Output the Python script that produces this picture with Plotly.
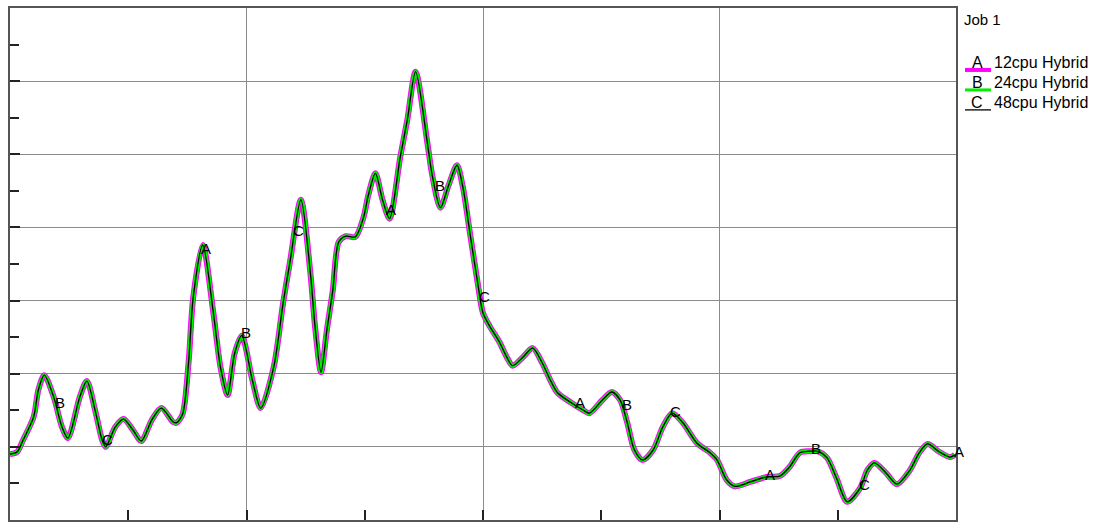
import numpy as np
import plotly.graph_objects as go

# Elapsed time (x) and load (y) for Job 1 — the three runs coincide
time = [0.00, 0.06, 0.11, 0.20, 0.24, 0.29, 0.37, 0.44, 0.49, 0.59, 0.65, 0.72, 0.78, 0.81,
        0.89, 0.96, 1.04, 1.11, 1.20, 1.28, 1.38, 1.41, 1.46, 1.51, 1.55, 1.63, 1.72,
        1.78, 1.84, 1.90, 1.96, 2.05, 2.12, 2.23, 2.31, 2.37, 2.46, 2.54, 2.58, 2.63, 2.68,
        2.73, 2.78, 2.84, 2.92, 2.99, 3.03, 3.09, 3.15, 3.21, 3.30, 3.36, 3.43, 3.53, 3.57,
        3.64, 3.71, 3.78, 3.83, 3.89, 3.96, 4.00, 4.06, 4.14, 4.20, 4.25, 4.34, 4.42, 4.50,
        4.57, 4.63, 4.74, 4.85, 4.90, 5.01, 5.09, 5.16, 5.22, 5.28, 5.35, 5.44, 5.52, 5.60,
        5.69, 5.81, 5.92, 5.98, 6.06, 6.13, 6.26, 6.40, 6.51, 6.59, 6.68, 6.76, 6.83, 6.91,
        6.99, 7.08, 7.19, 7.25, 7.31, 7.41, 7.50, 7.61, 7.69, 7.76, 7.86, 7.95, 7.99]

load = [0.90, 0.93, 1.09, 1.41, 1.78, 1.98, 1.68, 1.27, 1.12, 1.68, 1.90, 1.50, 1.09, 1.00,
        1.27, 1.38, 1.23, 1.08, 1.37, 1.53, 1.34, 1.33, 1.45, 2.15, 3.05, 3.76, 2.83,
        2.09, 1.71, 2.28, 2.52, 1.91, 1.53, 2.09, 2.97, 3.55, 4.38, 3.38, 2.64, 2.02, 2.60,
        3.14, 3.80, 3.88, 3.87, 4.14, 4.44, 4.74, 4.38, 4.12, 4.96, 5.47, 6.13, 5.15, 4.72,
        4.27, 4.58, 4.85, 4.55, 3.92, 3.19, 2.83, 2.64, 2.43, 2.23, 2.11, 2.23, 2.35, 2.15,
        1.91, 1.74, 1.61, 1.50, 1.46, 1.64, 1.75, 1.64, 1.33, 0.96, 0.82, 0.96, 1.27, 1.46,
        1.33, 1.05, 0.92, 0.82, 0.55, 0.46, 0.52, 0.59, 0.60, 0.72, 0.92, 0.94, 0.94, 0.85,
        0.57, 0.25, 0.44, 0.68, 0.78, 0.64, 0.49, 0.68, 0.92, 1.04, 0.93, 0.86, 0.89]

series_names = ["12cpu Hybrid", "24cpu Hybrid", "48cpu Hybrid"]
series_tags = ["A", "B", "C"]
series_colors = ["#ff00ff", "#00ee00", "#000000"]
series_widths = [6, 4, 1.3]

# Where each run's tag letter is attached along its curve
tag_positions = {
    "A": [1.62, 3.19, 4.79, 6.39, 7.99],
    "B": [0.39, 1.96, 3.60, 5.18, 6.78],
    "C": [0.79, 2.41, 3.98, 5.59, 7.19],
}

FONT = "Liberation Sans"

fig = go.Figure()
for name, color, width in zip(series_names, series_colors, series_widths):
    fig.add_trace(go.Scatter(
        x=time, y=load, name=name, mode="lines",
        line=dict(color=color, width=width, shape="spline", smoothing=0.8),
        showlegend=False, hoverinfo="skip",
    ))

annotations = []
for tag in series_tags:
    for tx in tag_positions[tag]:
        ty = float(np.interp(tx, time, load))
        annotations.append(dict(
            x=tx, y=ty, xref="x", yref="y", text=tag, showarrow=False,
            xanchor="center", yanchor="middle", xshift=4, yshift=3,
            font=dict(family=FONT, size=15, color="black"),
        ))

# Title and key to the right of the plot
annotations.append(dict(
    x=1.006, y=0.977, xref="paper", yref="paper", text="Job 1", showarrow=False,
    xanchor="left", yanchor="middle", font=dict(family=FONT, size=15, color="black"),
))
shapes = []
row_y = [0.893, 0.854, 0.815]
bar_y = [0.879, 0.840, 0.801]
bar_w = [4, 3, 1.3]
for tag, name, color, ry, by, bw in zip(series_tags, series_names, series_colors, row_y, bar_y, bar_w):
    annotations.append(dict(
        x=1.0225, y=ry, xref="paper", yref="paper", text=tag, showarrow=False,
        xanchor="center", yanchor="middle", font=dict(family=FONT, size=16, color="black"),
    ))
    annotations.append(dict(
        x=1.038, y=ry, xref="paper", yref="paper", text=name, showarrow=False,
        xanchor="left", yanchor="middle", font=dict(family=FONT, size=16, color="black"),
    ))
    shapes.append(dict(
        type="line", xref="paper", yref="paper", x0=1.0095, x1=1.037, y0=by, y1=by,
        line=dict(color=color, width=bw),
    ))

axis_common = dict(
    showline=True, linecolor="#555555", linewidth=2, mirror=True,
    showgrid=True, gridcolor="#8c8c8c", gridwidth=1.3,
    zeroline=False, showticklabels=False,
    ticks="inside", ticklen=10, tickcolor="#222222", tickwidth=1.5,
    fixedrange=True,
)

fig.update_layout(
    width=1108, height=523,
    margin=dict(l=10, r=152, t=8, b=3),
    paper_bgcolor="white", plot_bgcolor="white",
    xaxis=dict(range=[0, 8], dtick=2, tick0=0,
               minor=dict(dtick=1, ticks="inside", ticklen=10, tickcolor="#222222",
                          tickwidth=1.5, showgrid=False),
               **axis_common),
    yaxis=dict(range=[0, 7], dtick=1, tick0=0,
               minor=dict(dtick=0.5, ticks="inside", ticklen=9, tickcolor="#222222",
                          tickwidth=1.5, showgrid=False),
               **axis_common),
    annotations=annotations,
    shapes=shapes,
)

fig.write_html("out.html")
